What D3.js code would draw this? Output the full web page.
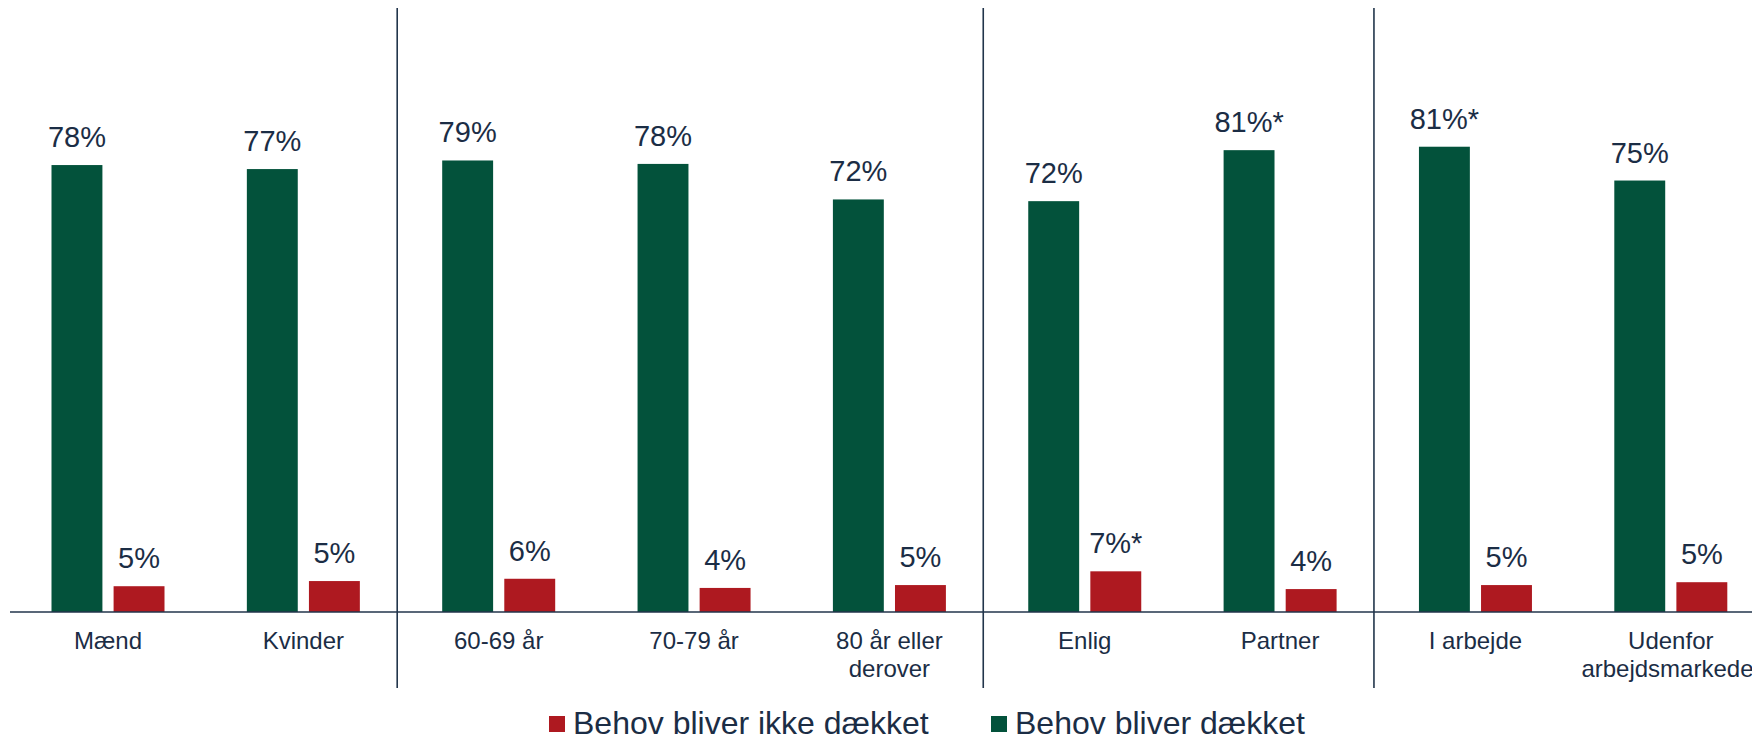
<!DOCTYPE html>
<html>
<head>
<meta charset="utf-8">
<script src="https://cdn.jsdelivr.net/npm/d3@7"></script>
<style>
  html, body { margin: 0; padding: 0; background: #ffffff; }
  svg { display: block; }
  text { font-family: "Liberation Sans", Arial, sans-serif; }
</style>
</head>
<body>
<svg id="chart" width="1752" height="736"></svg>
<script>
// ---- Data ----
const categories = ["Mænd", "Kvinder", "60-69 år", "70-79 år", "80 år eller\nderover", "Enlig", "Partner", "I arbejde", "Udenfor\narbejdsmarkedet"];
const seriesNames = ["Behov bliver dækket", "Behov bliver ikke dækket"];
const covered = [78.0, 77.3, 78.8, 78.2, 72.0, 71.7, 80.6, 81.2, 75.3];
const notCovered = [4.5, 5.4, 5.8, 4.2, 4.7, 7.1, 4.0, 4.7, 5.2];
const coveredLabels = ["78%", "77%", "79%", "78%", "72%", "72%", "81%*", "81%*", "75%"];
const notCoveredLabels = ["5%", "5%", "6%", "4%", "5%", "7%*", "4%", "5%", "5%"];
const groupStarts = ["60-69 år", "Enlig", "I arbejde"];
const legendOrder = ["Behov bliver ikke dækket", "Behov bliver dækket"];

// ---- Styles ----
const colors = { "Behov bliver dækket": "#03523b", "Behov bliver ikke dækket": "#ae1920" };
const textColor = "#1b2d45";
const lineColor = "#22354b";

const svg = d3.select("#chart");
const W = 1752, H = 736;

const x = d3.scaleBand().domain(categories).range([6.5, 6.5 + 9 * 195.35]).padding(0);
const xInner = d3.scaleBand().domain(seriesNames).range([45, 158]).paddingInner(0.18);
const y = d3.scaleLinear().domain([0, 100]).range([612, 39]);

const rows = categories.map((c, i) => ({
  cat: c,
  values: [
    { s: seriesNames[0], v: covered[i], label: coveredLabels[i] },
    { s: seriesNames[1], v: notCovered[i], label: notCoveredLabels[i] }
  ]
}));

// separators
svg.append("g").selectAll("line").data(groupStarts).join("line")
  .attr("x1", d => x(d)).attr("x2", d => x(d))
  .attr("y1", 8).attr("y2", 688)
  .attr("stroke", lineColor).attr("stroke-width", 1.6);

// bars
const g = svg.append("g").selectAll("g").data(rows).join("g")
  .attr("transform", d => `translate(${x(d.cat)},0)`);

g.selectAll("rect").data(d => d.values).join("rect")
  .attr("x", d => xInner(d.s))
  .attr("width", xInner.bandwidth())
  .attr("y", d => y(d.v))
  .attr("height", d => y(0) - y(d.v))
  .attr("fill", d => colors[d.s]);

g.selectAll("text.val").data(d => d.values).join("text")
  .attr("class", "val")
  .attr("x", d => xInner(d.s) + xInner.bandwidth() / 2)
  .attr("y", d => y(d.v) - 18)
  .attr("text-anchor", "middle")
  .attr("font-size", 29)
  .attr("fill", textColor)
  .text(d => d.label);

// baseline axis
svg.append("line")
  .attr("x1", 10).attr("x2", W)
  .attr("y1", y(0)).attr("y2", y(0))
  .attr("stroke", lineColor).attr("stroke-width", 1.6);

// category labels
const labels = svg.append("g").selectAll("text").data(categories).join("text")
  .attr("x", d => x(d) + (xInner.range()[0] + xInner.range()[1]) / 2)
  .attr("y", 649)
  .attr("text-anchor", "middle")
  .attr("font-size", 24)
  .attr("fill", textColor);
labels.selectAll("tspan").data(d => d.split("\n")).join("tspan")
  .attr("x", function() { return d3.select(this.parentNode).attr("x"); })
  .attr("dy", (d, i) => i === 0 ? 0 : 27.5)
  .text(d => d);

// legend
const legendX = { "Behov bliver ikke dækket": 549, "Behov bliver dækket": 991 };
const lg = svg.append("g").selectAll("g").data(legendOrder).join("g")
  .attr("transform", d => `translate(${legendX[d]},0)`);
lg.append("rect").attr("x", 0).attr("y", 716).attr("width", 16).attr("height", 16)
  .attr("fill", d => colors[d]);
lg.append("text").attr("x", 24).attr("y", 734)
  .attr("font-size", 32).attr("fill", textColor)
  .text(d => d);
</script>
</body>
</html>
